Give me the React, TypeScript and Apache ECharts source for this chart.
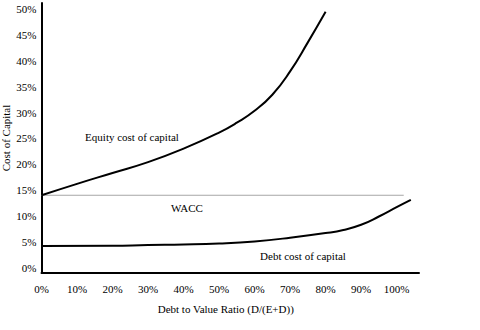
import React, { useEffect, useRef } from "react";
import * as echarts from "echarts";

const equityX = [0, 0.1, 0.2, 0.3, 0.4, 0.5, 0.55, 0.6, 0.65, 0.7, 0.75, 0.8];
const equityY = [0.15, 0.172, 0.193, 0.214, 0.24, 0.271, 0.29, 0.313, 0.344, 0.389, 0.445, 0.504];
const debtX = [0, 0.2, 0.3, 0.4, 0.5, 0.6, 0.7, 0.8, 0.85, 0.9, 0.95, 1.0, 1.04];
const debtY = [0.052, 0.0525, 0.054, 0.055, 0.057, 0.061, 0.068, 0.077, 0.083, 0.093, 0.109, 0.127, 0.141];
const waccX = [0, 1.02];
const waccY = [0.15, 0.15];
const labels = ["Equity cost of capital", "WACC", "Debt cost of capital"];

const FONT = "Liberation Serif";

export default function App() {
  const ref = useRef<HTMLDivElement>(null);
  useEffect(() => {
    document.body.style.margin = "0";
    const chart = echarts.init(ref.current!, null, { renderer: "svg" });
    const pair = (xs: number[], ys: number[]) => xs.map((x, i) => [x, ys[i]]);
    chart.setOption({
      animation: false,
      backgroundColor: "#ffffff",
      textStyle: { fontFamily: FONT },
      grid: { left: 41.5, right: 61, top: 3, bottom: 57, containLabel: false, outerBoundsMode: "none" },
      xAxis: {
        type: "value",
        min: 0,
        max: 1.063,
        interval: 0.1,
        name: "Debt to Value Ratio (D/(E+D))",
        nameLocation: "middle",
        nameGap: 30,
        nameMoveOverlap: false,
        nameTextStyle: { fontFamily: FONT, fontSize: 11, color: "#000", padding: [0, 9, 0, 0] },
        axisLine: { lineStyle: { color: "#000", width: 2 } },
        axisTick: { show: false },
        splitLine: { show: false },
        axisLabel: {
          fontFamily: FONT,
          fontSize: 11,
          color: "#000",
          margin: 10,
          showMaxLabel: false,
          formatter: (v: number) => Math.round(v * 100) + "%",
        },
      },
      yAxis: {
        type: "value",
        min: 0,
        max: 0.521,
        interval: 0.05,
        name: "Cost of Capital",
        nameLocation: "middle",
        nameGap: 30,
        nameMoveOverlap: false,
        nameTextStyle: { fontFamily: FONT, fontSize: 11, color: "#000" },
        axisLine: { show: true, lineStyle: { color: "#000", width: 2 } },
        axisTick: { show: false },
        splitLine: { show: false },
        axisLabel: {
          fontFamily: FONT,
          fontSize: 11,
          color: "#000",
          margin: 5,
          verticalAlign: "bottom",
          lineHeight: 10,
          showMaxLabel: false,
          formatter: (v: number) => Math.round(v * 100) + "%",
        },
      },
      series: [
        {
          type: "line",
          data: pair(waccX, waccY),
          showSymbol: false,
          lineStyle: { color: "#a6a6a6", width: 1 },
        },
        {
          type: "line",
          data: pair(equityX, equityY),
          smooth: 0.5,
          showSymbol: false,
          lineStyle: { color: "#000", width: 2 },
        },
        {
          type: "line",
          data: pair(debtX, debtY),
          smooth: 0.5,
          showSymbol: false,
          lineStyle: { color: "#000", width: 2 },
        },
      ],
      graphic: [
        { type: "text", x: 132, y: 137, style: { text: labels[0], fontFamily: FONT, fontSize: 11, fill: "#000", align: "center", verticalAlign: "middle" } },
        { type: "text", x: 187, y: 208, style: { text: labels[1], fontFamily: FONT, fontSize: 11, fill: "#000", align: "center", verticalAlign: "middle" } },
        { type: "text", x: 303, y: 256, style: { text: labels[2], fontFamily: FONT, fontSize: 11, fill: "#000", align: "center", verticalAlign: "middle" } },
      ],
    });
    return () => chart.dispose();
  }, []);
  return <div ref={ref} style={{ width: 480, height: 330 }} />;
}
